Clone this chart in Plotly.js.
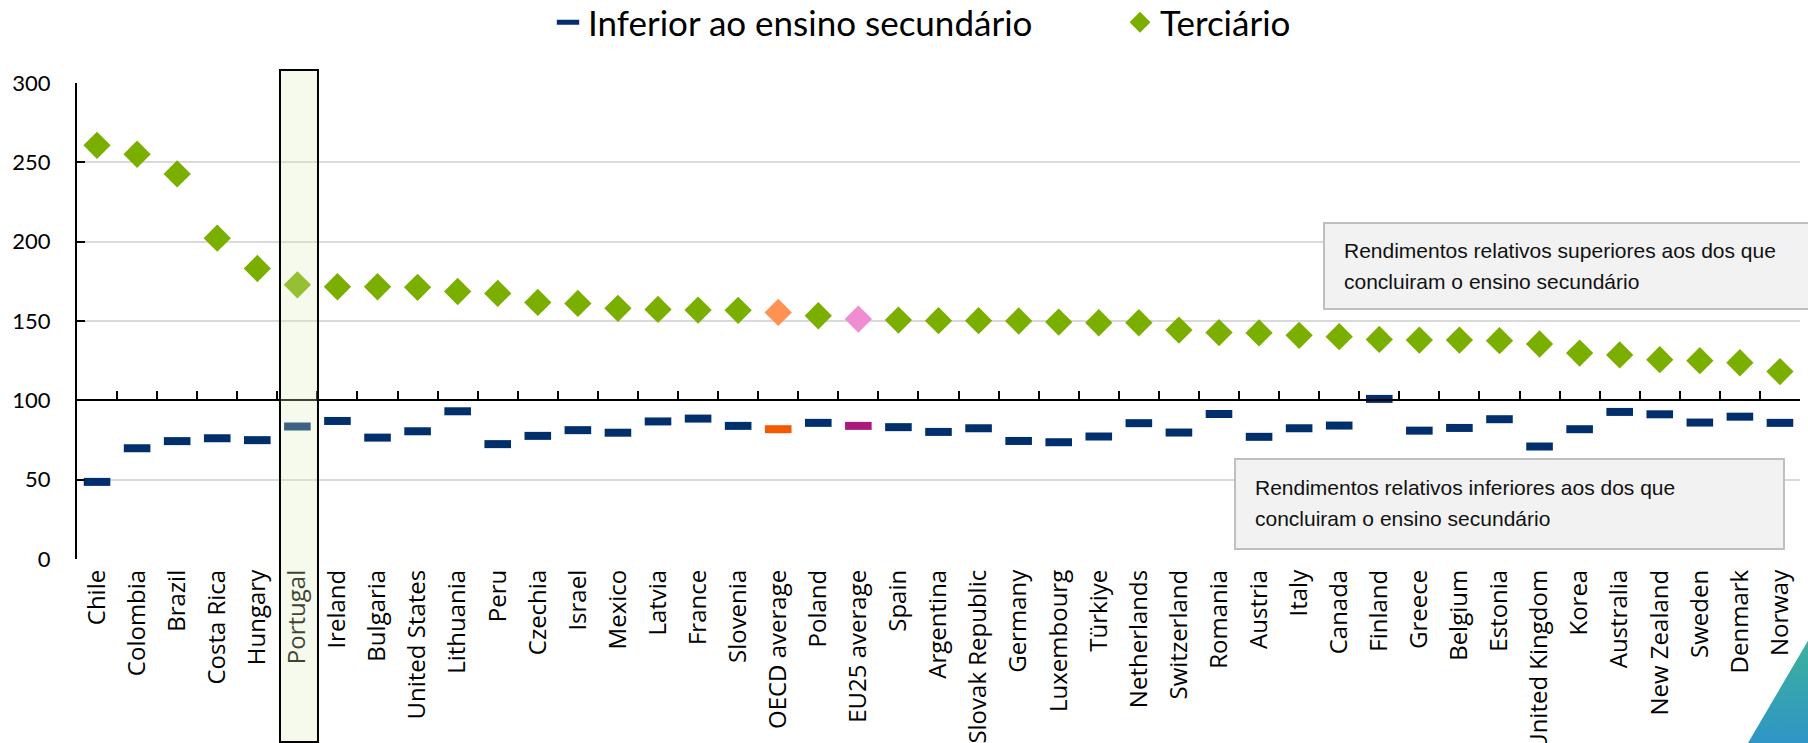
<!DOCTYPE html>
<html><head><meta charset="utf-8">
<script src="https://cdn.plot.ly/plotly-3.0.1.min.js"></script>
<style>html,body{margin:0;padding:0;background:#fff;} #chart{width:1808px;height:743px;}</style>
</head><body><div id="chart"></div>
<script>
const categories = ["Chile","Colombia","Brazil","Costa Rica","Hungary","Portugal","Ireland","Bulgaria","United States","Lithuania","Peru","Czechia","Israel","Mexico","Latvia","France","Slovenia","OECD average","Poland","EU25 average","Spain","Argentina","Slovak Republic","Germany","Luxembourg","Türkiye","Netherlands","Switzerland","Romania","Austria","Italy","Canada","Finland","Greece","Belgium","Estonia","United Kingdom","Korea","Australia","New Zealand","Sweden","Denmark","Norway"];
const belowUpperSecondary = [48.6,69.8,74.3,76.1,74.9,83.5,87.0,76.5,80.5,93.1,72.4,77.6,81.2,79.6,86.7,88.5,83.9,81.8,85.8,83.9,83.1,80.1,82.4,74.4,73.6,77.2,85.6,79.7,91.4,77.0,82.4,84.1,100.9,80.9,82.6,88.1,70.9,81.8,92.7,91.2,86.0,89.7,85.8];
const tertiary = [260.7,255.1,242.7,202.2,183.1,172.8,171.6,171.6,171.2,168.6,167.4,161.7,161.1,158.0,157.3,156.9,156.7,155.4,153.3,151.2,150.6,150.2,150.2,150.0,149.3,148.9,148.9,144.3,142.7,142.5,141.0,140.1,138.4,138.0,138.0,137.6,135.5,129.8,128.6,125.6,125.0,123.7,118.1];
const yTicks = [0,50,100,150,200,250,300];
const seriesNames = ["Inferior ao ensino secundário","Terciário"];
const highlight = "Portugal";
const noteUpperLines = ["Rendimentos relativos superiores aos dos que", "concluiram o ensino secundário"];
const noteLowerLines = ["Rendimentos relativos inferiores aos dos que", "concluiram o ensino secundário"];

const dashColor = c => c === "OECD average" ? "#f15a00" : c === "EU25 average" ? "#ab1a7a" : "#002f6c";
const diamondColor = c => c === "OECD average" ? "#ff9152" : c === "EU25 average" ? "#f08cd2" : "#7aaf00";

const traces = [
  {
    type: "scatter", mode: "markers", name: seriesNames[0],
    x: categories, y: belowUpperSecondary, xaxis: "x2", yaxis: "y",
    marker: {symbol: "line-ew", size: 19, color: categories.map(dashColor),
             line: {width: 8, color: categories.map(dashColor)}},
    hoverinfo: "skip"
  },
  {
    type: "scatter", mode: "markers", name: seriesNames[1],
    x: categories, y: tertiary, xaxis: "x", yaxis: "y",
    marker: {symbol: "diamond", size: 21, color: categories.map(diamondColor), line: {width: 0}},
    hoverinfo: "skip"
  }
];

const L = 77, R = 8, T = 83, B = 184, W = 1808, H = 743;
const pw = W - L - R, ph = H - T - B;
const px = v => (v - L) / pw;        // pixel -> paper x
const py = v => (H - B - v) / ph;    // pixel -> paper y
const pIdx = categories.indexOf(highlight);

const triSvg = "<svg xmlns='http://www.w3.org/2000/svg' width='60' height='104' viewBox='0 0 60 104' preserveAspectRatio='none'><defs><linearGradient id='g' x1='0' y1='0' x2='0' y2='1'><stop offset='0' stop-color='#3db19c'/><stop offset='1' stop-color='#2f95c6'/></linearGradient></defs><polygon points='60,0 0,104 60,104' fill='url(#g)'/></svg>";

const noteFont = {family: "Liberation Sans, Arial, sans-serif", size: 21, color: "#111"};
const noteLine = (text, xPix, yPix) => ({xref: "paper", yref: "paper", x: px(xPix), y: py(yPix),
  xanchor: "left", yanchor: "middle", text: text, align: "left", showarrow: false, font: noteFont});

const layout = {
  width: W, height: H,
  margin: {l: L, r: R, t: T, b: B, pad: 0, autoexpand: false},
  paper_bgcolor: "#ffffff", plot_bgcolor: "#ffffff",
  font: {family: "Lato, sans-serif", color: "#000"},
  showlegend: true,
  legend: {orientation: "h", x: px(548), xanchor: "left", y: py(-7), yanchor: "top",
           font: {family: "Lato, sans-serif", size: 35, color: "#000"},
           bgcolor: "rgba(0,0,0,0)", traceorder: "normal", entrywidth: 527},
  xaxis: {type: "category", range: [-0.5, categories.length - 0.5], showgrid: false, zeroline: false,
          showline: false, ticks: "", tickangle: -90, ticklabelstandoff: 5,
          tickfont: {family: "Open Sans, sans-serif", size: 24, color: "#000"}, fixedrange: true},
  xaxis2: {type: "category", overlaying: "x", anchor: "free", position: 100 / 300,
           range: [-0.5, categories.length - 0.5], showticklabels: false, showgrid: false, zeroline: false,
           showline: true, linecolor: "#000", linewidth: 2, ticks: "inside", ticklen: 8, tickwidth: 2,
           tickcolor: "#000", tickson: "boundaries"},
  yaxis: {range: [0, 300], tickmode: "array", tickvals: yTicks, ticktext: yTicks.map(String),
          showline: true, linecolor: "#000", linewidth: 2, ticks: "inside", ticklen: 8, tickwidth: 2,
          tickcolor: "#000", showgrid: true, gridcolor: "#d9d9d9", gridwidth: 2, zeroline: false,
          tickfont: {family: "Lato, sans-serif", size: 22, color: "#000"}, ticklabelstandoff: 20},
  shapes: [
    {type: "rect", layer: "above", xref: "x", yref: "paper",
     x0: pIdx - 0.434, x1: pIdx + 0.514, y0: py(742), y1: py(70),
     fillcolor: "rgba(220,238,185,0.28)", line: {color: "#000", width: 2}},
    {type: "rect", layer: "above", xref: "paper", yref: "paper",
     x0: px(1324), x1: px(1830), y0: py(309), y1: py(223),
     fillcolor: "#f2f2f2", line: {color: "#bfbfbf", width: 2}},
    {type: "rect", layer: "above", xref: "paper", yref: "paper",
     x0: px(1235), x1: px(1784), y0: py(549), y1: py(459),
     fillcolor: "#f2f2f2", line: {color: "#bfbfbf", width: 2}}
  ],
  annotations: [
    noteLine(noteUpperLines[0], 1342, 251),
    noteLine(noteUpperLines[1], 1342, 281.5),
    noteLine(noteLowerLines[0], 1253, 487),
    noteLine(noteLowerLines[1], 1253, 518)
  ],
  images: [
    {source: "data:image/svg+xml;charset=utf-8," + encodeURIComponent(triSvg),
     xref: "paper", yref: "paper", x: px(1748), y: py(639), sizex: 61 / pw, sizey: 104 / ph,
     xanchor: "left", yanchor: "top", sizing: "stretch", layer: "above"}
  ]
};

Plotly.newPlot("chart", traces, layout, {staticPlot: true, displayModeBar: false});
</script>
</body></html>
